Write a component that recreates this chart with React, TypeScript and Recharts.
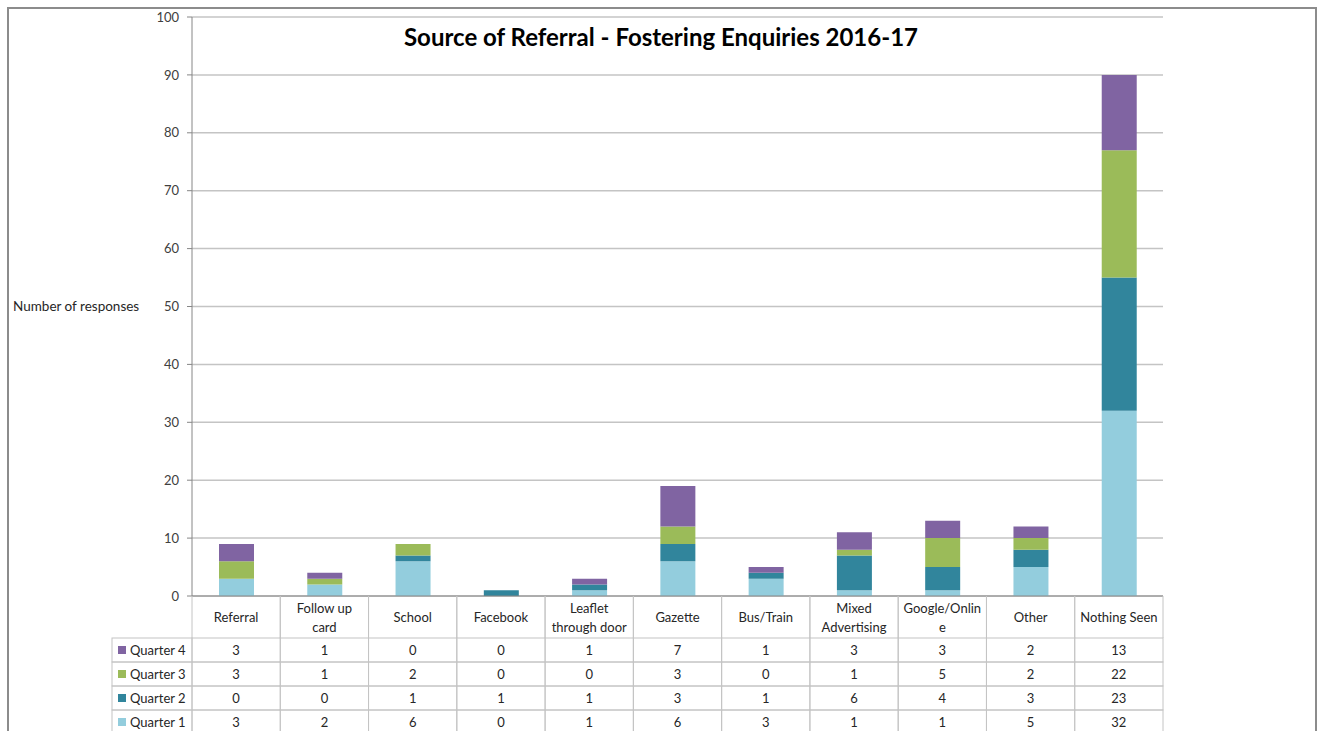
import { BarChart, Bar, XAxis, YAxis, CartesianGrid } from 'recharts'

const categories = ['Referral', 'Follow up card', 'School', 'Facebook', 'Leaflet through door', 'Gazette', 'Bus/Train', 'Mixed Advertising', 'Google/Online', 'Other', 'Nothing Seen']
// how the header cells wrap in the data table
const categoryLines = [['Referral'], ['Follow up', 'card'], ['School'], ['Facebook'], ['Leaflet', 'through door'], ['Gazette'], ['Bus/Train'], ['Mixed', 'Advertising'], ['Google/Onlin', 'e'], ['Other'], ['Nothing Seen']]

const quarter1 = [3, 2, 6, 0, 1, 6, 3, 1, 1, 5, 32]
const quarter2 = [0, 0, 1, 1, 1, 3, 1, 6, 4, 3, 23]
const quarter3 = [3, 1, 2, 0, 0, 3, 0, 1, 5, 2, 22]
const quarter4 = [3, 1, 0, 0, 1, 7, 1, 3, 3, 2, 13]

const yTicks = [0, 10, 20, 30, 40, 50, 60, 70, 80, 90, 100]

const series = [
  { key: 'q1', name: 'Quarter 1', color: '#93CDDD' },
  { key: 'q2', name: 'Quarter 2', color: '#31859C' },
  { key: 'q3', name: 'Quarter 3', color: '#9BBB59' },
  { key: 'q4', name: 'Quarter 4', color: '#8064A2' },
]

const data = categories.map((name, i) => ({
  name,
  q1: quarter1[i],
  q2: quarter2[i],
  q3: quarter3[i],
  q4: quarter4[i],
}))

const W = 1322
const H = 740
const margin = { top: 17, right: 159, bottom: 6, left: 0 }
const yAxisW = 192
const bandW = (W - margin.left - margin.right - yAxisW) / categories.length
const legendLeft = 112
const gridColor = '#c4c4c4'
const font = 'Lato, "Noto Sans", sans-serif'

function HeaderTick(props: any) {
  const { x, y, index } = props
  const lines = categoryLines[index]
  const h = 42
  return (
    <g>
      <line x1={x - bandW / 2} y1={y} x2={x - bandW / 2} y2={y + h} stroke={gridColor} />
      <line x1={x + bandW / 2} y1={y} x2={x + bandW / 2} y2={y + h} stroke={gridColor} />
      {lines.map((l: string, k: number) => (
        <text key={k} x={x} y={y + h / 2 + (k - (lines.length - 1) / 2) * 19 + 5} textAnchor="middle" fontSize={13} fill="#262626" fontFamily={font}>
          {l}
        </text>
      ))}
    </g>
  )
}

function makeRowTick(s: { key: string; name: string; color: string }) {
  return function RowTick(props: any) {
    const { x, y, index } = props
    const h = 24
    const v = (data[index] as any)[s.key]
    const left = x - bandW / 2
    return (
      <g>
        <rect x={left} y={y} width={bandW} height={h} fill="none" stroke={gridColor} />
        {index === 0 && (
          <g>
            <rect x={legendLeft} y={y} width={left - legendLeft} height={h} fill="none" stroke={gridColor} />
            <rect x={legendLeft + 6} y={y + 8} width={8} height={8} fill={s.color} />
            <text x={legendLeft + 18} y={y + 17} fontSize={13} fill="#262626" fontFamily={font}>{s.name}</text>
          </g>
        )}
        <text x={x} y={y + 17} textAnchor="middle" fontSize={13} fill="#262626" fontFamily={font}>{v}</text>
      </g>
    )
  }
}

// table rows top to bottom: Quarter 4 .. Quarter 1
const tableRows = [
  { id: 'row1', s: series[3] },
  { id: 'row2', s: series[2] },
  { id: 'row3', s: series[1] },
  { id: 'row4', s: series[0] },
]

export default function App() {
  return (
    <div style={{ position: 'absolute', left: 0, top: 0, width: W, height: 731, overflow: 'hidden', background: '#fff' }}>
      <div style={{ position: 'absolute', left: 7, top: 7, width: 1306, height: 800, border: '2px solid #8c8c8c' }} />
      <div style={{ position: 'absolute', left: 0, top: 22, width: 1322, textAlign: 'center', fontFamily: font, fontWeight: 700, fontSize: 24, color: '#000' }}>
        Source of Referral - Fostering Enquiries 2016-17
      </div>
      <div style={{ position: 'absolute', left: 0, top: 0 }}>
        <BarChart width={W} height={H} data={data} margin={margin} barSize={35}>
          <CartesianGrid xAxisId="cat" vertical={false} stroke={gridColor} strokeWidth={1.5} />
          <XAxis xAxisId="cat" dataKey="name" height={42} interval={0} tickSize={0} tickMargin={0} tick={<HeaderTick />} axisLine={{ stroke: '#868686' }} tickLine={false} />
          {tableRows.map((r) => {
            const T = makeRowTick(r.s)
            return (
              <XAxis key={r.id} xAxisId={r.id} dataKey="name" height={24} interval={0} tickSize={0} tickMargin={0} tick={<T />} axisLine={false} tickLine={false} />
            )
          })}
          <YAxis
            domain={[0, 100]}
            ticks={yTicks}
            width={yAxisW}
            tickSize={5}
            tickMargin={8}
            interval={0}
            tick={{ fontSize: 13, fill: '#404040', fontFamily: font }}
            axisLine={{ stroke: '#868686' }}
            tickLine={{ stroke: '#868686' }}
            label={{ value: 'Number of responses', position: 'insideLeft', offset: 13, fontSize: 13.5, fill: '#262626', fontFamily: font }}
          />
          {series.map((s) => (
            <Bar key={s.key} xAxisId="cat" dataKey={s.key} name={s.name} stackId="a" fill={s.color} isAnimationActive={false} />
          ))}
        </BarChart>
      </div>
    </div>
  )
}
